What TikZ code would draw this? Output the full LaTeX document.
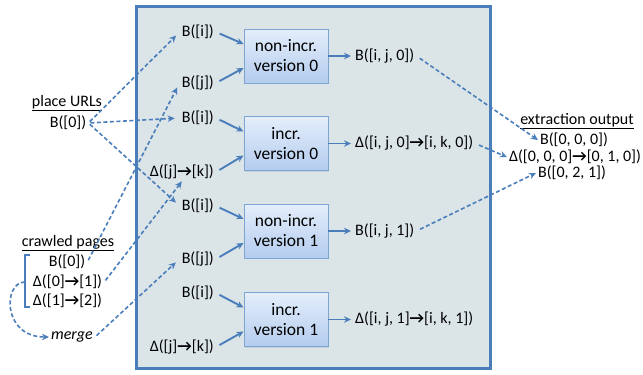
\documentclass[tikz,border=0pt]{standalone}
\usepackage{fontspec}
\setmainfont{Carlito}
\usetikzlibrary{arrows.meta,shadows}
\definecolor{fb}{HTML}{4A7EBB}
\definecolor{ff}{HTML}{DBE4E7}
\definecolor{bt}{HTML}{E4EEFB}
\definecolor{bb}{HTML}{B4CCEE}
\definecolor{bd}{HTML}{7EA4D2}
\newcommand\ra{{\bfseries →}}
\begin{document}
\begin{tikzpicture}[x=1pt,y=-1pt,
 lab/.style={font=\fontsize{16}{18}\selectfont, inner sep=2pt},
 boxnode/.style={draw=bd, line width=0.9pt, top color=bt, bottom color=bb, minimum width=84pt, minimum height=54pt, align=center, font=\fontsize{17.5}{20}\selectfont, drop shadow={opacity=0.2,shadow xshift=1pt,shadow yshift=-1pt}},
 sarr/.style={-{Stealth[length=7pt,width=6.5pt]}, draw=fb, line width=1.9pt},
 darr/.style={-{Stealth[length=7pt,width=6.5pt]}, draw=fb, line width=1.6pt, dash pattern=on 4pt off 2.5pt}]
\useasboundingbox (0,0) rectangle (643,375);
\draw[fill=ff, draw=fb, line width=3pt] (136,6) rectangle (490,368);

\node[boxnode] (b0) at (286,56) {non-incr.\\version 0};
\node[boxnode] (b1) at (286,143.5) {incr.\\version 0};
\node[boxnode] (b2) at (286,231) {non-incr.\\version 1};
\node[boxnode] (b3) at (286,319.5) {incr.\\version 1};

\node[lab, anchor=east] (i0) at (216,32) {B([i])};
\node[lab, anchor=east] (j0) at (216,83) {B([j])};
\node[lab, anchor=east] (i1) at (216,118) {B([i])};
\node[lab, anchor=east] (d1) at (216,172) {Δ([j]\ra[k])};
\node[lab, anchor=east] (i2) at (216,206) {B([i])};
\node[lab, anchor=east] (j2) at (216,259) {B([j])};
\node[lab, anchor=east] (i3) at (216,293) {B([i])};
\node[lab, anchor=east] (d3) at (216,347) {Δ([j]\ra[k])};

\draw[sarr, shorten <=4pt] (i0.east) -- ([yshift=12pt]b0.west);
\draw[sarr, shorten <=4pt] (j0.east) -- ([yshift=-12pt]b0.west);
\draw[sarr, shorten <=4pt] (i1.east) -- ([yshift=12pt]b1.west);
\draw[sarr, shorten <=4pt] (d1.east) -- ([yshift=-12pt]b1.west);
\draw[sarr, shorten <=4pt] (i2.east) -- ([yshift=12pt]b2.west);
\draw[sarr, shorten <=4pt] (j2.east) -- ([yshift=-12pt]b2.west);
\draw[sarr, shorten <=4pt] (i3.east) -- ([yshift=12pt]b3.west);
\draw[sarr, shorten <=4pt] (d3.east) -- ([yshift=-12pt]b3.west);

\node[lab, anchor=west] (o0) at (353,56) {B([i, j, 0])};
\node[lab, anchor=west] (o1) at (353,143.5) {Δ([i, j, 0]\ra[i, k, 0])};
\node[lab, anchor=west] (o2) at (353,231) {B([i, j, 1])};
\node[lab, anchor=west] (o3) at (353,319.5) {Δ([i, j, 1]\ra[i, k, 1])};
\draw[sarr, shorten >=2pt] (b0.east) -- (o0.west);
\draw[sarr, shorten >=2pt] (b1.east) -- (o1.west);
\draw[sarr, shorten >=2pt] (b2.east) -- (o2.west);
\draw[sarr, shorten >=2pt] (b3.east) -- (o3.west);

\node[lab] (ext) at (577,121) {\underline{extraction output}};
\node[lab] (e0) at (574,140) {B([0, 0, 0])};
\node[lab] (e1) at (575,157) {Δ([0, 0, 0]\ra[0, 1, 0])};
\node[lab] (e2) at (572,173) {B([0, 2, 1])};

\node[lab] (pu) at (67,103) {\underline{place URLs}};
\node[lab] (pb) at (68,123) {B([0])};
\node[lab] (cp) at (68,243) {\underline{crawled pages}};
\node[lab] (c0) at (67,262) {B([0])};
\node[lab] (c1) at (67.5,282) {Δ([0]\ra[1])};
\node[lab] (c2) at (67.5,301) {Δ([1]\ra[2])};
\node[lab, font=\fontsize{16}{18}\selectfont\itshape] (mg) at (72,337) {merge};

\draw[fb, line width=1.5pt] (30,255) -- (25,255) -- (25,307) -- (30,307);
\coordinate (bm) at (25,282);
\draw[darr] (bm) .. controls (3,282) and (2,337) .. (mg.west);

\draw[darr, shorten >=5pt, shorten <=2pt] (pb.east) -- (i0.west);
\draw[darr, shorten >=5pt, shorten <=2pt] (pb.east) -- (i1.west);
\draw[darr, shorten >=5pt, shorten <=2pt] (pb.east) -- (i2.west);
\draw[darr, shorten >=5pt, shorten <=2pt] (c0.east) -- (j0.west);
\draw[darr, shorten <=2pt] (c1.east) -- (d1.south);
\draw[darr, shorten >=5pt, shorten <=2pt] (mg.east) -- (j2.west);
\draw[darr, shorten <=4pt] (o0.east) -- (e0.west);
\draw[darr, shorten <=4pt] (o1.east) -- (e1.west);
\draw[darr, shorten <=4pt] (o2.east) -- (e2.west);
\end{tikzpicture}
\end{document}
